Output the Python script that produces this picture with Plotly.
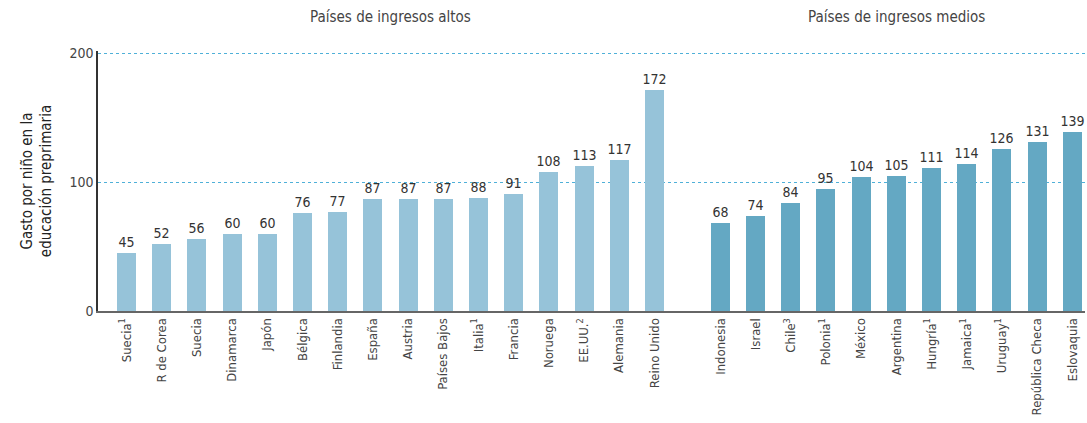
import plotly.graph_objects as go

FONT = "DejaVu Sans Condensed, Liberation Sans Narrow, Arial Narrow, sans-serif"
LIGHT_BLUE = "#96c3d9"
DARK_BLUE = "#64a8c3"
TEXT_COLOR = "#444444"

# high income countries
high_labels = [
    "Suecia<sup>1</sup>", "R de Corea", "Suecia", "Dinamarca", "Japón", "Bélgica",
    "Finlandia", "España", "Austria", "Países Bajos", "Italia<sup>1</sup>", "Francia",
    "Noruega", "EE.UU.<sup>2</sup>", "Alemania", "Reino Unido",
]
high_values = [45, 52, 56, 60, 60, 76, 77, 87, 87, 87, 88, 91, 108, 113, 117, 172]

# middle income countries
mid_labels = [
    "Indonesia", "Israel", "Chile<sup>3</sup>", "Polonia<sup>1</sup>", "México",
    "Argentina", "Hungría<sup>1</sup>", "Jamaica<sup>1</sup>", "Uruguay<sup>1</sup>",
    "República Checa", "Eslovaquia",
]
mid_values = [68, 74, 84, 95, 104, 105, 111, 114, 126, 131, 139]

group_titles = ["Países de ingresos altos", "Países de ingresos medios"]
y_title = "Gasto por niño en la<br>educación preprimaria"
y_ticks = [0, 100, 200]

# slot positions: the two groups are separated by a gap a bit narrower than two slots
GAP = 1.875
high_x = list(range(len(high_labels)))
mid_x = [len(high_labels) - 1 + GAP + i for i in range(len(mid_labels))]


def bar_trace(x, values, color):
    return go.Bar(
        x=x, y=values,
        width=0.54,
        marker=dict(color=color, line=dict(width=0)),
        text=[str(v) for v in values],
        textposition="outside",
        constraintext="none",
        textfont=dict(family=FONT, size=14, color="#333333"),
        cliponaxis=False,
        hoverinfo="skip",
    )


fig = go.Figure(data=[
    bar_trace(high_x, high_values, LIGHT_BLUE),
    bar_trace(mid_x, mid_values, DARK_BLUE),
])

for title, xs in zip(group_titles, [high_x, mid_x]):
    fig.add_annotation(
        text=title,
        x=(xs[0] + xs[-1]) / 2, xref="x",
        y=1.13, yref="paper", yanchor="middle",
        showarrow=False,
        font=dict(family=FONT, size=15, color=TEXT_COLOR),
    )

fig.update_layout(
    width=1087, height=423,
    margin=dict(l=98, r=2, t=51, b=112),
    paper_bgcolor="white",
    plot_bgcolor="white",
    showlegend=False,
    bargap=0,
    font=dict(family=FONT, size=14, color=TEXT_COLOR),
    xaxis=dict(
        range=[-0.81, mid_x[-1] + 0.36],
        tickmode="array",
        tickvals=high_x + mid_x,
        ticktext=high_labels + mid_labels,
        tickangle=-90,
        tickfont=dict(family=FONT, size=13, color=TEXT_COLOR),
        showgrid=False, zeroline=False,
        showline=True, linecolor="#666666", linewidth=2,
        ticks="",
        automargin=False,
    ),
    yaxis=dict(
        # a little headroom so the 200 grid line is not dropped at the edge
        range=[0, 202],
        tickvals=y_ticks,
        tickfont=dict(family=FONT, size=14, color=TEXT_COLOR),
        showgrid=True, gridcolor="#4fb0d8", griddash="dot", gridwidth=1,
        zeroline=False,
        showline=True, linecolor="#333333", linewidth=1.5,
        ticks="", ticklen=0,
        automargin=False,
        title=dict(text=y_title, font=dict(family=FONT, size=15, color="#222222"), standoff=14),
    ),
)

# drop the default body margin so the figure sits at the window's top-left corner
fig.write_html(
    "out.html",
    config={"displayModeBar": False},
    post_script="document.body.style.margin='0';",
)
